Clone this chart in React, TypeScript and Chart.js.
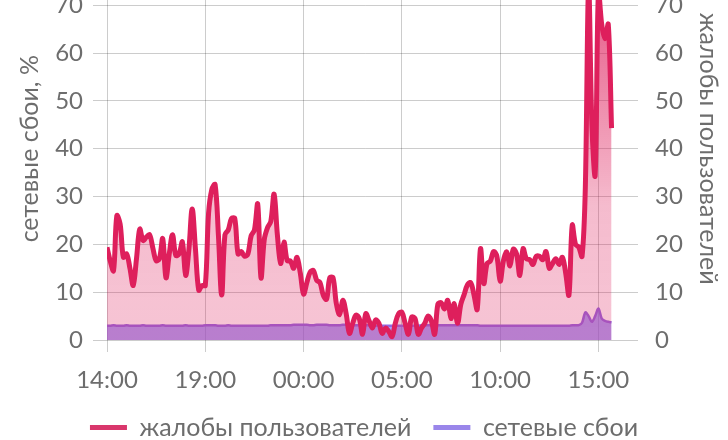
import { useEffect, useRef } from 'react'
import { Chart, registerables } from 'chart.js'

Chart.register(...registerables)

// time axis: one value every 10 minutes starting at 14:00
const START_HOUR = 14
const STEP_MINUTES = 10
const X_MAX_HOURS = 26.3
const X_TICK_STEP = 5
const Y_MAX = 80
const Y_STEP = 10

const SERIES_LABELS = ['жалобы пользователей', 'сетевые сбои']
const AXIS_TITLES = ['сетевые сбои, %', 'жалобы пользователей']

// жалобы пользователей (right axis)
const COMPLAINTS = [
  19.4, 16.5, 14.5, 26, 24.3, 17.3, 18, 15, 11.4, 17,
  23.2, 20.8, 21.5, 22, 19.2, 16.6, 17, 21.2, 13, 18,
  22, 17.7, 18, 20.5, 13.5, 19, 27.4, 19, 10.4, 11.4,
  11.4, 26.5, 31.5, 32.5, 22, 9.4, 22, 23, 25.4, 25.4,
  18, 18.5, 17.5, 18, 21.8, 23, 28.4, 13, 21, 23.5,
  24.8, 30.5, 22, 16, 20.5, 16.6, 16.5, 15, 17.3, 14,
  9.6, 12, 14.2, 14.5, 12.5, 12, 9.4, 8.5, 13, 13,
  7.6, 5.3, 8.3, 5.5, 1.4, 3.5, 5.2, 4.5, 1.2, 5.5,
  4, 2.5, 4.2, 3.5, 1.4, 2.5, 1.8, 0.7, 3.5, 5.5,
  5.8, 3.5, 1.2, 4.8, 4.5, 1.2, 2.5, 3.5, 5, 4,
  1.2, 7.5, 7.8, 6.5, 8.3, 4.5, 7.6, 3.5, 7.5, 9.5,
  11.5, 12, 9.5, 6.4, 19.1, 11.8, 16, 16.5, 18.5, 17.5,
  12.3, 16.6, 18.4, 15.5, 19, 18, 13.5, 19.1, 17, 16.8,
  15.8, 17.5, 17.5, 16.8, 18.5, 15, 16, 17, 15.8, 17.3,
  14, 9.4, 24, 20, 19.4, 17.5, 32, 74, 45, 34.5,
  73, 66, 63, 66, 44.3,
]

// сетевые сбои, % (left axis)
const OUTAGES = [
  3.0, 3.0, 3.1, 3.0, 3.0, 3.0, 3.1, 3.0, 3.0, 3.0,
  3.0, 3.1, 3.0, 3.0, 3.0, 3.0, 3.0, 3.1, 3.0, 3.0,
  3.0, 3.0, 3.0, 3.0, 3.1, 3.0, 3.0, 3.0, 3.0, 3.0,
  3.1, 3.1, 3.1, 3.1, 3.0, 3.0, 3.0, 3.1, 3.0, 3.0,
  3.0, 3.0, 3.0, 3.0, 3.0, 3.0, 3.0, 3.0, 3.0, 3.0,
  3.1, 3.1, 3.1, 3.1, 3.1, 3.1, 3.1, 3.2, 3.2, 3.2,
  3.2, 3.2, 3.1, 3.1, 3.2, 3.2, 3.2, 3.2, 3.1, 3.1,
  3.1, 3.1, 3.2, 3.2, 3.1, 3.1, 3.1, 3.1, 3.1, 3.1,
  3.1, 3.0, 3.0, 3.0, 3.0, 3.0, 3.0, 3.0, 3.0, 3.0,
  3.0, 3.0, 3.0, 3.0, 3.0, 3.0, 3.1, 3.1, 3.1, 3.1,
  3.1, 3.1, 3.1, 3.1, 3.1, 3.1, 3.1, 3.1, 3.1, 3.1,
  3.1, 3.1, 3.1, 3.1, 3.0, 3.0, 3.0, 3.0, 3.0, 3.0,
  3.0, 3.0, 3.0, 3.0, 3.0, 3.0, 3.0, 3.0, 3.0, 3.0,
  3.0, 3.0, 3.0, 3.0, 3.0, 3.0, 3.0, 3.0, 3.0, 3.0,
  3.0, 3.0, 3.1, 3.1, 3.1, 3.6, 5.8, 5.0, 3.8, 5.0,
  6.6, 4.5, 4.0, 3.8, 3.7,
]

const FAMILY = 'Lato, "Noto Sans", sans-serif'
const TICK_FONT = { family: FAMILY, size: 24 }
const LABEL_FONT = { family: FAMILY, size: 25 }
const TEXT = '#6d6d6d'
const GRID = 'rgba(0, 0, 0, 0.2)'
const RED = '#de1f5c'
const PURPLE = '#9466e0'
const LEGEND_SWATCH = ['#d9376c', '#9a86ea']

const toPoints = (values: number[]) =>
  values.map((y, i) => ({ x: (i * STEP_MINUTES) / 60, y }))

const hourLabel = (v: number | string) =>
  `${String((START_HOUR + Number(v)) % 24).padStart(2, '0')}:00`

function complaintFill(context: any) {
  const { chart } = context
  const area = chart.chartArea
  if (!area) return 'rgba(222, 31, 92, 0.26)'
  const g = chart.ctx.createLinearGradient(0, area.bottom, 0, area.top)
  g.addColorStop(0, 'rgba(222, 31, 92, 0.26)')
  g.addColorStop(0.35, 'rgba(222, 31, 92, 0.3)')
  g.addColorStop(1, 'rgba(222, 31, 92, 0.8)')
  return g
}

export default function App() {
  const canvasRef = useRef<HTMLCanvasElement>(null)

  useEffect(() => {
    if (!canvasRef.current) return
    const chart = new Chart(canvasRef.current, {
      type: 'line',
      data: {
        datasets: [
          {
            label: SERIES_LABELS[0],
            data: toPoints(COMPLAINTS),
            yAxisID: 'y1',
            borderColor: RED,
            borderWidth: 5,
            borderJoinStyle: 'round',
            pointRadius: 0,
            tension: 0.35,
            fill: 'origin',
            backgroundColor: complaintFill,
          },
          {
            label: SERIES_LABELS[1],
            data: toPoints(OUTAGES),
            yAxisID: 'y',
            borderColor: PURPLE,
            borderWidth: 2.5,
            pointRadius: 0,
            tension: 0.3,
            fill: 'origin',
            backgroundColor: 'rgba(120, 100, 240, 0.62)',
          },
        ],
      },
      options: {
        animation: false,
        responsive: true,
        maintainAspectRatio: false,
        layout: { padding: { top: 25, left: 0, right: 0, bottom: 0 } },
        scales: {
          x: {
            type: 'linear',
            min: 0,
            max: X_MAX_HOURS,
            grid: { color: GRID, tickLength: 12 },
            border: { display: false },
            ticks: {
              stepSize: X_TICK_STEP,
              includeBounds: false,
              callback: hourLabel,
              color: TEXT,
              font: TICK_FONT,
              padding: 14,
              maxRotation: 0,
              autoSkip: false,
            },
            afterFit: (s: any) => { s.height = 53 },
          },
          y: {
            position: 'left',
            min: 0,
            max: Y_MAX,
            grid: { color: GRID, tickLength: 14 },
            border: { display: false },
            ticks: { stepSize: Y_STEP, color: TEXT, font: TICK_FONT, padding: 10 },
            title: { display: true, text: AXIS_TITLES[0], color: TEXT, font: LABEL_FONT, padding: { top: 15, bottom: 0 } },
            afterFit: (s: any) => { s.width = 107 },
          },
          y1: {
            position: 'right',
            min: 0,
            max: Y_MAX,
            grid: { color: GRID, tickLength: 14, drawOnChartArea: false },
            border: { display: false },
            ticks: { stepSize: Y_STEP, color: TEXT, font: TICK_FONT, padding: 17 },
            title: { display: true, text: AXIS_TITLES[1], color: TEXT, font: LABEL_FONT, padding: { top: 5, bottom: 0 } },
            afterFit: (s: any) => { s.width = 104 },
          },
        },
        plugins: {
          tooltip: { enabled: false },
          legend: {
            position: 'bottom',
            labels: {
              usePointStyle: true,
              pointStyle: 'line',
              pointStyleWidth: 37,
              color: TEXT,
              font: LABEL_FONT,
              padding: 22,
              generateLabels: (c: any) =>
                Chart.defaults.plugins.legend.labels.generateLabels(c).map((l: any) => ({
                  ...l,
                  lineWidth: 5,
                  strokeStyle: LEGEND_SWATCH[l.datasetIndex],
                  fillStyle: LEGEND_SWATCH[l.datasetIndex],
                })),
            },
          },
        },
      },
    })
    return () => { chart.destroy() }
  }, [])

  return (
    <div style={{ position: 'absolute', left: 0, top: -74, width: 728, height: 524 }}>
      <canvas ref={canvasRef} />
    </div>
  )
}
